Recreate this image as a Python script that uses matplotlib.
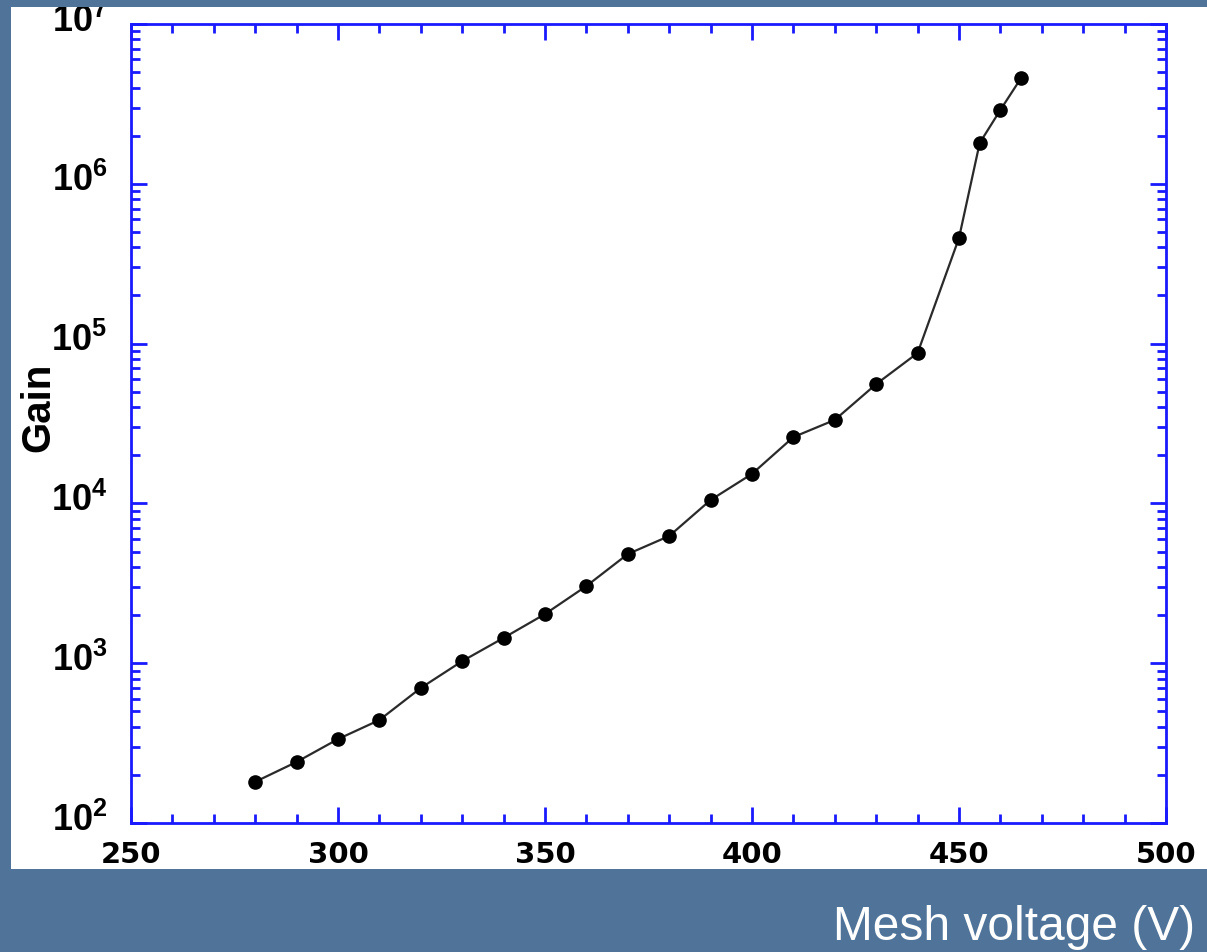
import matplotlib
matplotlib.use("Agg")
import matplotlib.pyplot as plt
import matplotlib.ticker as mticker
import matplotlib.transforms as mtransforms
from matplotlib.patches import Rectangle

# Data
voltage = [280, 290, 300, 310, 320, 330, 340, 350, 360, 370, 380, 390, 400,
           410, 420, 430, 440, 450, 455, 460, 465]
gain = [181, 241, 335, 441, 700, 1030, 1440, 2030, 3040, 4820, 6250, 10500,
        15300, 26000, 33300, 55800, 87300, 4.58e5, 1.80e6, 2.90e6, 4.59e6]
x_ticks = [250, 300, 350, 400, 450, 500]
y_exponents = [2, 3, 4, 5, 6, 7]

plt.rcParams['mathtext.fontset'] = 'custom'
plt.rcParams['mathtext.bf'] = 'Liberation Sans:bold'
plt.rcParams['mathtext.rm'] = 'Liberation Sans:bold'
plt.rcParams['mathtext.default'] = 'bf'

BG = '#4f7399'
AX = '#1a1aff'

fig = plt.figure(figsize=(12.07, 9.52), dpi=100, facecolor=BG)
# white panel behind the plot
fig.add_artist(Rectangle((11 / 1207, 1 - 869 / 952), 1 - 11 / 1207, (869 - 7) / 952,
                         transform=fig.transFigure, facecolor='white',
                         edgecolor='none', zorder=-10))

ax = fig.add_axes([131 / 1207, 1 - 823 / 952, (1166 - 131) / 1207, (823 - 24) / 952])
ax.set_facecolor('white')
ax.plot(voltage, gain, color='#2a2a2a', lw=1.6, marker='o', ms=9.5,
        mfc='black', mec='black')
ax.set_yscale('log')
ax.set_xlim(250, 500)
ax.set_ylim(1e2, 1e7)

ax.set_xticks(x_ticks)
ax.set_xticklabels([str(v) for v in x_ticks], fontweight='bold', fontsize=21,
                   family='DejaVu Sans')
ax.xaxis.set_minor_locator(mticker.MultipleLocator(10))
ax.set_yticks([10.0 ** e for e in y_exponents])
ax.set_yticklabels([r'$10^{%d}$' % e for e in y_exponents], fontsize=26)
ax.yaxis.set_minor_locator(mticker.LogLocator(base=10, subs=range(2, 10), numticks=20))
ax.yaxis.set_minor_formatter(mticker.NullFormatter())

ax.tick_params(which='both', direction='in', top=True, right=True, color=AX,
               width=2)
ax.tick_params(which='major', length=11.5)
ax.tick_params(which='minor', length=6.5)
ax.tick_params(axis='x', which='major', pad=13)
ax.tick_params(axis='y', which='major', pad=17)
for s in ax.spines.values():
    s.set_color(AX)
    s.set_linewidth(2)

# lift the y tick labels slightly, as in the reference
shift = mtransforms.ScaledTranslation(0, 0.07, fig.dpi_scale_trans)
for lab in ax.get_yticklabels():
    lab.set_transform(lab.get_transform() + shift)

ax.set_ylabel('Gain', fontsize=29, fontweight='bold', family='Liberation Sans')
ax.yaxis.set_label_coords(-0.071, 0.52)

# slide-title strip that hides the top of the panel
fig.add_artist(Rectangle((0, 1 - 7 / 952), 1, 7 / 952, transform=fig.transFigure,
                         facecolor=BG, edgecolor='none', zorder=20))

fig.text(1195 / 1207, 1 - 940 / 952, 'Mesh voltage (V)', color='white',
         fontsize=34.5, family='Liberation Sans', ha='right', va='baseline')

fig.savefig('out.png', dpi=100, facecolor=BG)
